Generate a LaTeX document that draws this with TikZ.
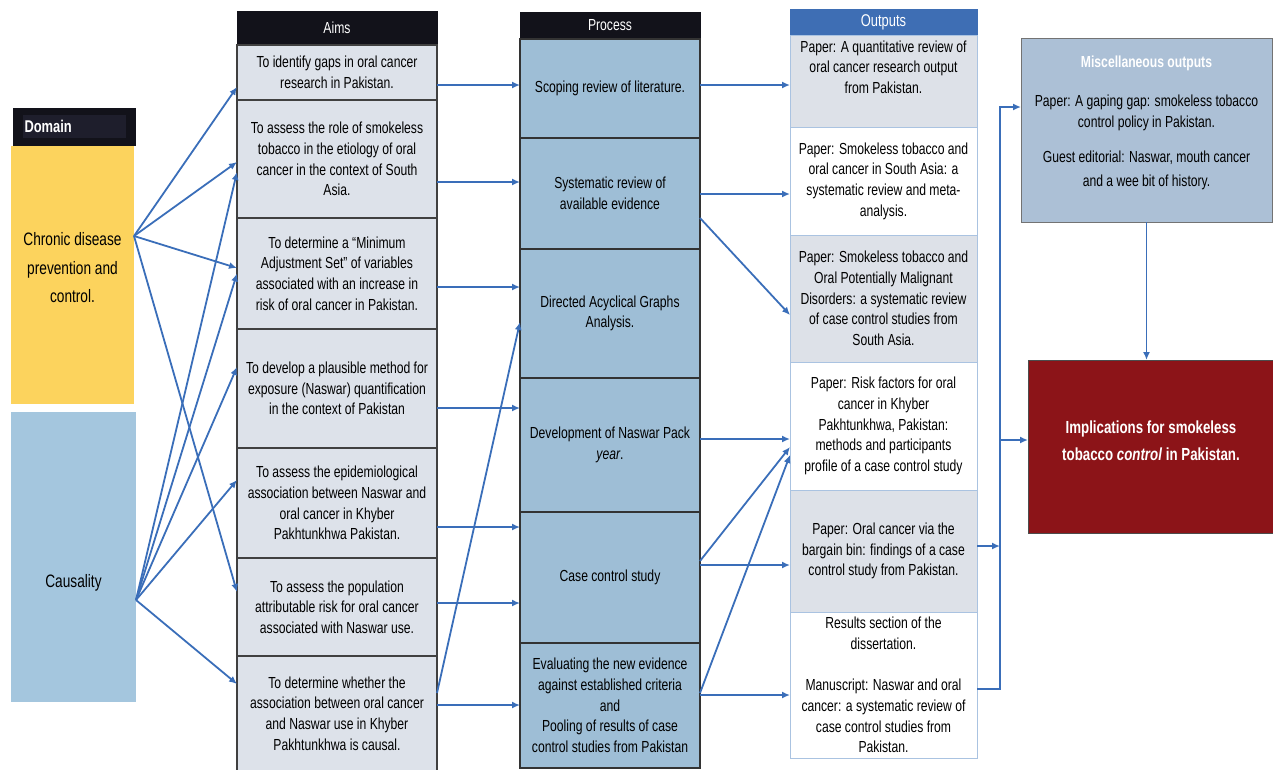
\documentclass[tikz,border=0pt]{standalone}
\usepackage{fontspec}
\setmainfont{Liberation Sans}[FakeStretch=0.76]
\usetikzlibrary{positioning,arrows.meta}

\definecolor{headblack}{RGB}{18,18,26}
\definecolor{domink}{RGB}{30,30,44}
\definecolor{domyellow}{RGB}{252,211,93}
\definecolor{causblue}{RGB}{164,198,222}
\definecolor{aimgray}{RGB}{221,226,234}
\definecolor{procblue}{RGB}{158,190,214}
\definecolor{outgray}{RGB}{221,225,232}
\definecolor{outhead}{RGB}{62,110,180}
\definecolor{outedge}{RGB}{170,195,225}
\definecolor{miscblue}{RGB}{172,192,214}
\definecolor{implred}{RGB}{140,20,24}
\definecolor{arrowblue}{RGB}{58,110,185}

\begin{document}
\begin{tikzpicture}[
	x = 1pt, y = -1pt,
	every node/.style = {inner sep = 0pt, outer sep = 0pt, align = center,
		font = \fontsize{16}{20.7}\selectfont},
	headbox/.style = {draw = headblack, fill = headblack, text = white},
	aimbox/.style = {draw = black!75, line width = 1.2pt, fill = aimgray, minimum width = 200pt},
	procbox/.style = {draw = black!80, line width = 1.2pt, fill = procblue, minimum width = 180pt},
	outbox/.style = {draw = outedge, line width = 1pt, fill = white, minimum width = 187pt},
	arr/.style = {draw = arrowblue, line width = 1.8pt, -{Latex[length = 8pt, width = 7pt]}}
	]
	\useasboundingbox (0,0) rectangle (1273,769);
	
	% domain
	\node[headbox, minimum width = 122pt, minimum height = 37pt, anchor = north west] (domhead) at (13,108) {};
	\node[fill = domink, text = white, minimum width = 103pt, minimum height = 23pt,
		text width = 99pt, align = left, font = \fontsize{17}{20}\selectfont\bfseries] (domtext) at (domhead.center) {Domain};
	\node[fill = domyellow, minimum width = 123pt, minimum height = 258pt, anchor = north west] (chronic) at (11,146) {};
	\node[font = \fontsize{18}{28.5}\selectfont] (chronict) at ([yshift = 7pt]chronic.center) {Chronic disease\\prevention and\\control.};
	\node[fill = causblue, minimum width = 125pt, minimum height = 290pt, anchor = north west] (causal) at (11,412) {};
	\node[font = \fontsize{18}{20}\selectfont] (causalt) at ([yshift = -26pt]causal.center) {Causality};
	
	% aims
	\node[headbox, minimum width = 200pt, minimum height = 34pt, anchor = north west] (aimhead) at (237,11) {Aims};
	\node[aimbox, minimum height = 55pt, below = 0pt of aimhead] (a1) {To identify gaps in oral cancer\\research in Pakistan.};
	\node[aimbox, minimum height = 118pt, below = 0pt of a1] (a2) {To assess the role of smokeless\\tobacco in the etiology of oral\\cancer in the context of South\\Asia.};
	\node[aimbox, minimum height = 111pt, below = 0pt of a2] (a3) {To determine a “Minimum\\Adjustment Set” of variables\\associated with an increase in\\risk of oral cancer in Pakistan.};
	\node[aimbox, minimum height = 119pt, below = 0pt of a3] (a4) {To develop a plausible method for\\exposure (Naswar) quantification\\in the context of Pakistan};
	\node[aimbox, minimum height = 110pt, below = 0pt of a4] (a5) {To assess the epidemiological\\association between Naswar and\\oral cancer in Khyber\\Pakhtunkhwa Pakistan.};
	\node[aimbox, minimum height = 98pt, below = 0pt of a5] (a6) {To assess the population\\attributable risk for oral cancer\\associated with Naswar use.};
	\node[aimbox, minimum height = 115pt, below = 0pt of a6] (a7) {To determine whether the\\association between oral cancer\\and Naswar use in Khyber\\Pakhtunkhwa is causal.};
	
	% process
	\node[headbox, minimum width = 180pt, minimum height = 27pt, anchor = north west] (prochead) at (520,12) {Process};
	\node[procbox, minimum height = 99pt, below = 0pt of prochead] (p1) {Scoping review of literature.};
	\node[procbox, minimum height = 111pt, below = 0pt of p1] (p2) {Systematic review of\\available evidence};
	\node[procbox, minimum height = 129pt, below = 0pt of p2] (p3) {Directed Acyclical Graphs\\Analysis.};
	\node[procbox, minimum height = 134pt, below = 0pt of p3] (p4) {Development of Naswar Pack\\\textit{year}.};
	\node[procbox, minimum height = 131pt, below = 0pt of p4] (p5) {Case control study};
	\node[procbox, minimum height = 125pt, below = 0pt of p5] (p6) {Evaluating the new evidence\\against established criteria\\and\\Pooling of results of case\\control studies from Pakistan};
	
	% outputs
	\node[draw = outhead, fill = outhead, text = white, minimum width = 187pt, minimum height = 26pt,
		anchor = north west, font = \fontsize{17}{20}\selectfont] (outhd) at (790,9) {Outputs};
	\node[outbox, fill = outgray, minimum height = 92pt, below = 0pt of outhd] (o1) {};
	\node (o1t) at ([yshift = 14pt]o1.center) {Paper: A quantitative review of\\oral cancer research output\\from Pakistan.};
	\node[outbox, minimum height = 108pt, below = 0pt of o1] (o2) {Paper: Smokeless tobacco and\\oral cancer in South Asia: a\\systematic review and meta-\\analysis.};
	\node[outbox, fill = outgray, minimum height = 127pt, below = 0pt of o2] (o3) {Paper: Smokeless tobacco and\\Oral Potentially Malignant\\Disorders: a systematic review\\of case control studies from\\South Asia.};
	\node[outbox, minimum height = 128pt, below = 0pt of o3] (o4) {Paper: Risk factors for oral\\cancer in Khyber\\Pakhtunkhwa, Pakistan:\\methods and participants\\profile of a case control study};
	\node[outbox, fill = outgray, minimum height = 122pt, below = 0pt of o4] (o5) {Paper: Oral cancer via the\\bargain bin: findings of a case\\control study from Pakistan.};
	\node[outbox, minimum height = 146pt, below = 0pt of o5] (o6) {Results section of the\\dissertation.\\[20.7pt]Manuscript: Naswar and oral\\cancer: a systematic review of\\case control studies from\\Pakistan.};
	
	% misc and implications
	\node[draw = black!55, fill = miscblue, minimum width = 251pt, minimum height = 184pt, anchor = north west] (misc) at (1021,38) {};
	\node (misct) at ([yshift = 7pt]misc.center) {\textcolor{white}{\textbf{Miscellaneous outputs}}\\[18pt]Paper: A gaping gap: smokeless tobacco\\control policy in Pakistan.\\[15pt]Guest editorial: Naswar, mouth cancer\\[3pt]and a wee bit of history.};
	\node[draw = black!70, fill = implred, minimum width = 246pt, minimum height = 173pt, anchor = north west] (impl) at (1028,360) {};
	\node[text = white, font = \fontsize{17.5}{27}\selectfont\bfseries] (implt) at ([yshift = 6pt]impl.center) {Implications for smokeless\\tobacco \textit{control} in Pakistan.};
	
	% domain to aims
	\coordinate (cs) at ([yshift = 39pt]chronic.east);
	\coordinate (ks) at ([yshift = -43pt]causal.east);
	\draw[arr] (cs) -- ([yshift = -14.5pt]a1.west);
	\draw[arr] (cs) -- ([yshift = -3pt]a2.west);
	\draw[arr] (cs) -- ([yshift = 5.5pt]a3.west);
	\draw[arr] (cs) -- ([yshift = 15pt]a6.west);
	\draw[arr] (ks) -- ([yshift = -13pt]a2.west);
	\draw[arr] (ks) -- (a3.west);
	\draw[arr] (ks) -- ([yshift = 21.5pt]a4.west);
	\draw[arr] (ks) -- ([yshift = 23pt]a5.west);
	\draw[arr] (ks) -- ([yshift = 29.5pt]a7.west);
	
	% aims to process
	\draw[arr] ([yshift = -12.5pt]a1.east) coordinate (s1) -- (s1 -| p1.west);
	\draw[arr] ([yshift = -23pt]a2.east) coordinate (s2) -- (s2 -| p2.west);
	\draw[arr] ([yshift = -13.5pt]a3.east) coordinate (s3) -- (s3 -| p3.west);
	\draw[arr] ([yshift = -19.5pt]a4.east) coordinate (s4) -- (s4 -| p4.west);
	\draw[arr] ([yshift = -24pt]a5.east) coordinate (s5) -- (s5 -| p5.west);
	\draw[arr] ([yshift = 4pt]a6.east) coordinate (s6) -- (s6 -| p5.west);
	\draw[arr] ([yshift = 8.5pt]a7.east) coordinate (s7) -- (s7 -| p6.west);
	\draw[arr] ([yshift = 20.5pt]a7.east) -- ([yshift = -8.5pt]p3.west);
	
	% process to outputs
	\draw[arr] ([yshift = 3.5pt]p1.east) coordinate (r1) -- (r1 -| o1.west);
	\draw[arr] ([yshift = -0.5pt]p2.east) coordinate (r2) -- (r2 -| o2.west);
	\draw[arr] ([yshift = -24.5pt]p2.east) -- ([yshift = -16.5pt]o3.west);
	\draw[arr] ([yshift = 6pt]p4.east) coordinate (r4) -- (r4 -| o4.west);
	\draw[arr] ([yshift = 16.5pt]p5.east) -- ([yshift = -21pt]o4.west);
	\draw[arr] ([yshift = 12.5pt]p6.east) -- ([yshift = -29pt]o4.west);
	\draw[arr] ([yshift = 12.5pt]p5.east) coordinate (r5) -- (r5 -| o5.west);
	\draw[arr] ([yshift = 10.5pt]p6.east) coordinate (r6) -- (r6 -| o6.west);
	
	% outputs to misc and implications
	\coordinate (bus) at (1000,0);
	\draw[arr] ([yshift = 5pt]o5.east) coordinate (b1) -- (b1 -| bus);
	\draw[arr] ([yshift = -4pt]o6.east) coordinate (b0) -- (b0 -| bus) |- ([yshift = 23pt]misc.west);
	\coordinate (b3) at ([yshift = 6.5pt]impl.west);
	\draw[arr] (b3 -| bus) -- (b3);
	\draw[arr] (misc.south) -- (misc.south |- impl.north);
\end{tikzpicture}
\end{document}
